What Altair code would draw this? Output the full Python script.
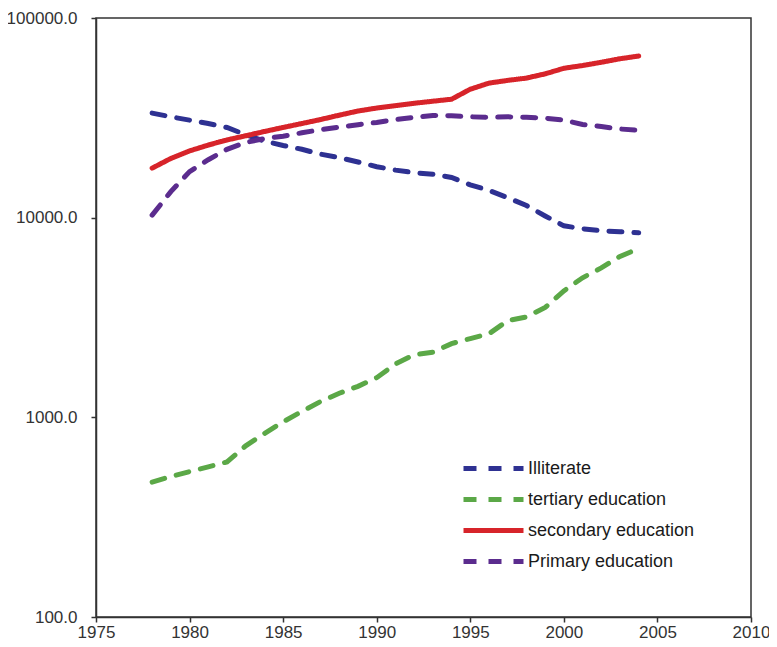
import altair as alt
import pandas as pd

years = list(range(1978, 2005))
illiterate = [33400, 32000, 30800, 29600, 28300, 26000, 24200, 23000, 22000, 20800,
              20000, 19000, 18000, 17300, 16800, 16500, 15900, 14600, 13700, 12600,
              11500, 10200, 9100, 8800, 8600, 8500, 8400]
tertiary = [474, 505, 535, 565, 598, 720, 830, 950, 1070, 1200,
            1320, 1430, 1580, 1850, 2060, 2120, 2340, 2480, 2620, 3050,
            3180, 3550, 4300, 5000, 5600, 6400, 7000]
secondary = [17700, 19800, 21600, 23100, 24500, 25700, 27000, 28300, 29600, 31000,
             32600, 34200, 35400, 36400, 37400, 38300, 39200, 44000, 47200, 48700,
             50000, 52500, 56000, 57800, 60000, 62500, 64500]
primary = [10300, 13500, 17000, 19500, 22000, 23800, 24900, 25600, 26600, 27600,
           28400, 29200, 30000, 31000, 31800, 32500, 32400, 32000, 31800, 32000,
           31800, 31500, 30800, 29300, 28600, 27800, 27400]

series_names = ["Illiterate", "tertiary education", "secondary education", "Primary education"]
series_colors = ["#2E3192", "#5BA847", "#D7242A", "#5B2C8E"]
series_dash = [[13, 12], [13, 12], [1, 0], [13, 12]]
x_ticks = list(range(1975, 2011, 5))
y_ticks = [100, 1000, 10000, 100000]

rows = []
for name, vals in zip(series_names, [illiterate, tertiary, secondary, primary]):
    for yr, v in zip(years, vals):
        rows.append({"year": yr, "value": v, "series": name})
df = pd.DataFrame(rows)

FONT = "Liberation Sans"

legend = alt.Legend(
    title=None,
    orient="none",
    legendX=405,
    legendY=438,
    symbolType="M-5,0H1",
    symbolSize=400,
    symbolStrokeWidth=5,
    labelFontSize=18,
    labelFont=FONT,
    labelColor="#1a1a1a",
    labelOffset=2,
    labelLimit=400,
    rowPadding=8,
    padding=0,
)

chart = alt.Chart(df).mark_line(strokeWidth=5, strokeCap="round").encode(
    x=alt.X("year:Q",
            scale=alt.Scale(domain=[1975, 2010], nice=False, zero=False),
            axis=alt.Axis(values=x_ticks, format="d", title=None, grid=False,
                          tickSize=5, labelPadding=2, labelFontSize=17,
                          labelFlush=False, labelOverlap=False)),
    y=alt.Y("value:Q",
            scale=alt.Scale(type="log", domain=[100, 100000], nice=False),
            axis=alt.Axis(values=y_ticks, format=".1f", title=None, grid=False,
                          tickSize=5, labelPadding=14, labelFontSize=17,
                          labelFlush=False, labelOverlap=False)),
    color=alt.Color("series:N",
                    scale=alt.Scale(domain=series_names, range=series_colors),
                    legend=legend),
    strokeDash=alt.StrokeDash("series:N",
                              scale=alt.Scale(domain=series_names, range=series_dash),
                              legend=legend),
    order=alt.Order("year:Q"),
).properties(
    width=655,
    height=599,
    autosize=alt.AutoSizeParams(type="none"),
    padding={"left": 88, "top": 10, "right": 18, "bottom": 30},
).configure_view(
    stroke="#333333", strokeWidth=1.5
).configure_axis(
    domainColor="#333333", domainWidth=1.5, tickColor="#333333", tickWidth=1.5,
    labelColor="#333333", labelFont=FONT
)

chart.save("out.html", embed_options={"renderer": "svg", "actions": False})
